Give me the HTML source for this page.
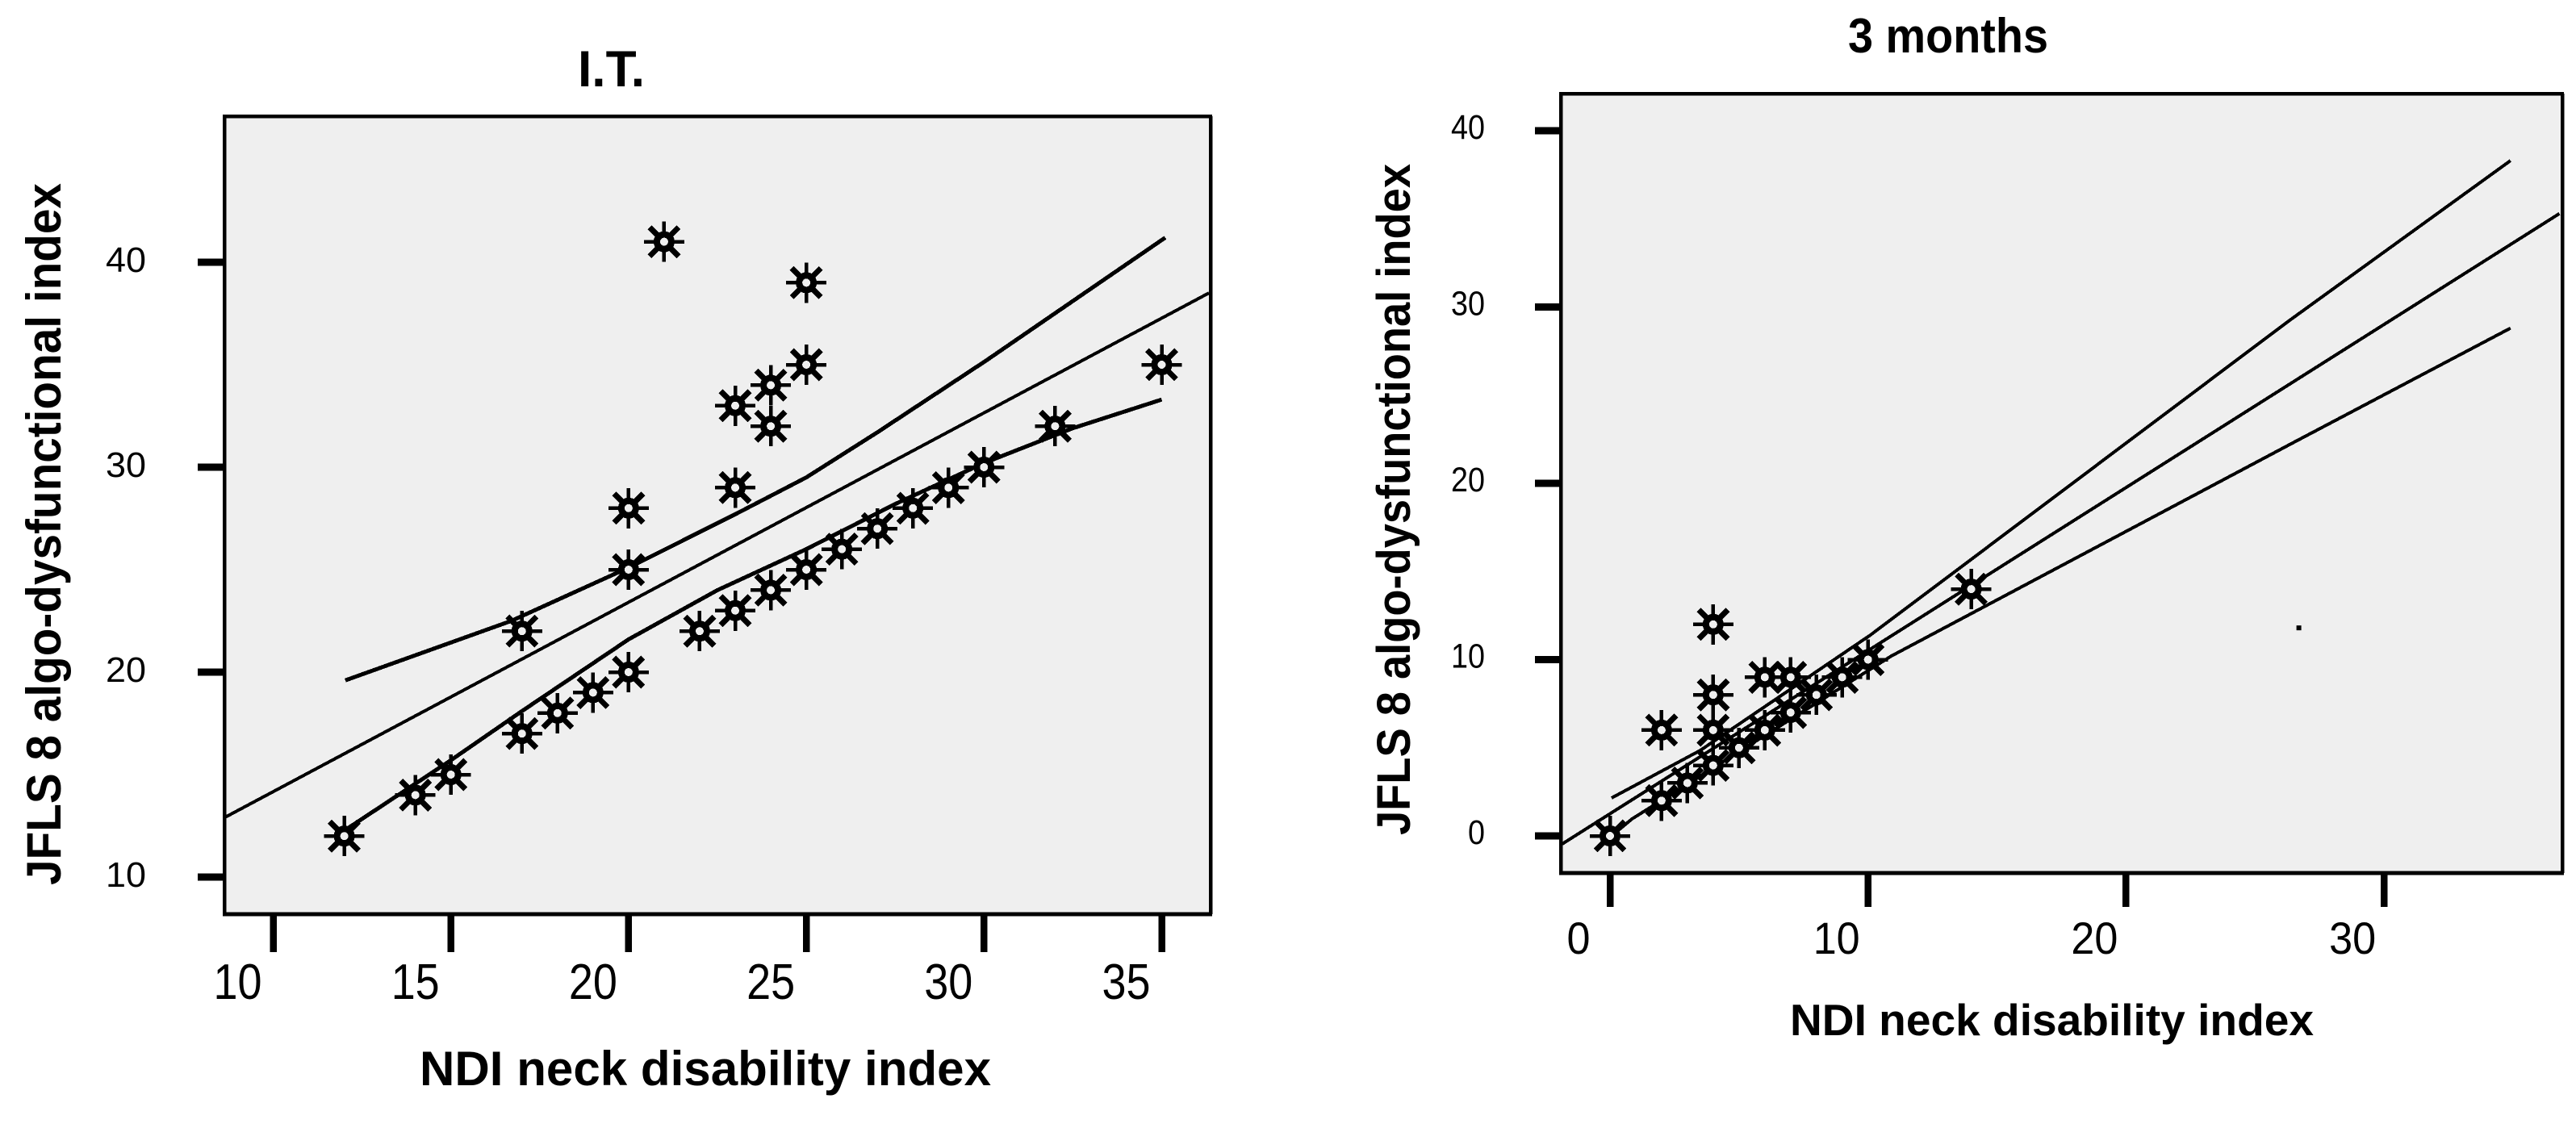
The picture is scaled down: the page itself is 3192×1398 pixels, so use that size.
<!DOCTYPE html>
<html lang="en">
<head>
<meta charset="utf-8">
<title>JFLS 8 vs NDI scatter plots</title>
<style>
html,body{margin:0;padding:0;background:#fff;width:3192px;height:1398px;overflow:hidden}
svg{display:block}
text{font-family:"Liberation Sans",sans-serif;fill:#000}
.bold{font-weight:700}
</style>
</head>
<body>
<svg id="figure" xmlns="http://www.w3.org/2000/svg" width="3192" height="1398" viewBox="0 0 3192 1398">
  <rect x="0" y="0" width="3192" height="1398" fill="#ffffff"/>

  <g id="chart-it">
    <rect x="278" y="144" width="1222" height="989" fill="#efefef"/>
    <text class="bold" x="716" y="107" font-size="63" textLength="83" lengthAdjust="spacingAndGlyphs">I.T.</text>
    <text class="bold" x="520" y="1345" font-size="60" textLength="708" lengthAdjust="spacingAndGlyphs">NDI neck disability index</text>
    <text class="bold" x="75" y="1097" font-size="60" textLength="870" lengthAdjust="spacingAndGlyphs" transform="rotate(-90 75 1097)">JFLS 8 algo-dysfunctional index</text>
  </g>

  <g id="chart-3m">
    <rect x="1934" y="116" width="1241" height="966" fill="#efefef"/>
    <text class="bold" x="2290" y="65" font-size="60" textLength="248" lengthAdjust="spacingAndGlyphs">3 months</text>
    <text class="bold" x="2218" y="1283" font-size="55" textLength="649" lengthAdjust="spacingAndGlyphs">NDI neck disability index</text>
    <text class="bold" x="1747" y="1035" font-size="58" textLength="832" lengthAdjust="spacingAndGlyphs" transform="rotate(-90 1747 1035)">JFLS 8 algo-dysfunctional index</text>
  </g>
</svg>

<script>
// ---- I.T. chart data ----
const itXTicks = [10, 15, 20, 25, 30, 35];
const itYTicks = [10, 20, 30, 40];
const itXTickLabels = ['10', '15', '20', '25', '30', '35'];
const itYTickLabels = ['10', '20', '30', '40'];
const itPointsX = [12, 14, 15, 17, 17, 18, 19, 20, 20, 20, 21, 22, 23, 23, 23, 24, 24, 24, 25, 25, 25, 26, 27, 28, 29, 30, 32, 35];
const itPointsY = [12, 14, 15, 22, 17, 18, 19, 20, 25, 28, 41, 22, 23, 29, 33, 24, 32, 34, 25, 35, 39, 26, 27, 28, 29, 30, 32, 35];
const itFitX = [8.63, 36.33];
const itFitY = [12.9, 38.5];
const itUpperX = [12.03, 16.7, 20.0, 23.0, 25.0, 27.0, 30.06, 35.1];
const itUpperY = [19.6, 22.5, 25.1, 27.7, 29.5, 31.7, 35.2, 41.2];
const itLowerX = [12.03, 15.0, 17.0, 20.0, 22.5, 25.0, 27.5, 30.0, 32.5, 35.0];
const itLowerY = [12.3, 15.7, 18.1, 21.6, 24.0, 26.0, 28.2, 30.2, 31.9, 33.3];

// ---- 3 months chart data ----
const tmXTicks = [0, 10, 20, 30];
const tmYTicks = [0, 10, 20, 30, 40];
const tmXTickLabels = ['0', '10', '20', '30'];
const tmYTickLabels = ['0', '10', '20', '30', '40'];
const tmPointsX = [0, 2, 2, 3, 4, 4, 4, 4, 5, 6, 6, 7, 7, 8, 9, 10, 14];
const tmPointsY = [0, 2, 6, 3, 4, 6, 8, 12, 5, 6, 9, 7, 9, 8, 9, 10, 14];
const tmFitX = [-1.9, 36.8];
const tmFitY = [-0.5, 35.3];
const tmUpperX = [0.06, 3.5, 10.1, 26.3, 34.9];
const tmUpperY = [2.15, 4.85, 11.4, 29.2, 38.3];
const tmLowerX = [0.06, 0.85, 10.9, 26.6, 34.9];
const tmLowerY = [0.0, 0.96, 10.2, 22.4, 28.8];
const tmStrayX = [26.7];
const tmStrayY = [11.8];

const NS = 'http://www.w3.org/2000/svg';

// axis functions
function itX(v) { return 338.5 + (v - 10) * 44.04; }
function itY(v) { return 1087 - (v - 10) * 25.4; }
function tmX(v) { return 1995 + v * 31.97; }
function tmY(v) { return 1036 - v * 21.85; }

function make(parent, tag, attrs, name) {
  const el = document.createElementNS(NS, tag);
  for (const k in attrs) el.setAttribute(k, attrs[k]);
  
  
  parent.appendChild(el);
  return el;
}

function drawBar(parent, x1, y1, x2, y2, w, name) {
  make(parent, 'line', {x1: x1, y1: y1, x2: x2, y2: y2, stroke: '#000', 'stroke-width': w, 'shape-rendering': 'crispEdges'}, name);
}

function drawLine(parent, xs, ys, sx, sy, w, name) {
  const d = xs.map(function (v, i) { return (i ? 'L' : 'M') + sx(v).toFixed(1) + ' ' + sy(ys[i]).toFixed(1); }).join(' ');
  make(parent, 'path', {d: d, fill: 'none', stroke: '#000', 'stroke-width': w, 'stroke-linejoin': 'round', 'shape-rendering': 'crispEdges'}, name);
}

function drawMarker(parent, cx, cy, name) {
  const g = make(parent, 'g', {'shape-rendering': 'crispEdges'}, name);
  const seg = [[0, -25, 0, 25, 4.5], [-25, 0, 25, 0, 4.5], [-18, -18, 18, 18, 7], [-18, 18, 18, -18, 7]];
  seg.forEach(function (s) {
    const l = document.createElementNS(NS, 'line');
    l.setAttribute('x1', cx + s[0]);
    l.setAttribute('y1', cy + s[1]);
    l.setAttribute('x2', cx + s[2]);
    l.setAttribute('y2', cy + s[3]);
    l.setAttribute('stroke', '#000');
    l.setAttribute('stroke-width', s[4]);
    g.appendChild(l);
  });
  const c = document.createElementNS(NS, 'circle');
  c.setAttribute('cx', cx);
  c.setAttribute('cy', cy);
  c.setAttribute('r', 9);
  c.setAttribute('fill', '#efefef');
  c.setAttribute('stroke', '#000');
  c.setAttribute('stroke-width', 8);
  g.appendChild(c);
}

function drawTickText(parent, label, x, y, size, perChar, anchor, name) {
  const t = make(parent, 'text', {x: x, y: y, 'font-size': size, 'text-anchor': anchor, textLength: perChar * label.length, lengthAdjust: 'spacingAndGlyphs'}, name);
  t.textContent = label;
}

function drawChart(cfg) {
  const root = document.getElementById(cfg.id);
  const p = cfg.prefix;
  drawBar(root, cfg.left - 2, cfg.top, cfg.right + 2, cfg.top, 4.5, p + '-plot-border-top');
  drawBar(root, cfg.right, cfg.top, cfg.right, cfg.bottom, 4.5, p + '-plot-border-right');
  drawBar(root, cfg.left, cfg.top, cfg.left, cfg.bottom, 4.5, p + '-y-axis-line');
  drawBar(root, cfg.left - 2, cfg.bottom, cfg.right + 2, cfg.bottom, 5, p + '-x-axis-line');

  cfg.xTicks.forEach(function (v, i) {
    const x = cfg.sx(v);
    drawBar(root, x, cfg.bottom, x, cfg.xTickEnd, 8.5, p + '-x-tick-' + v);
    drawTickText(root, cfg.xLabels[i], x + cfg.xLabelDx, cfg.xLabelBase, cfg.xFont, cfg.xCharW, 'middle', p + '-x-tick-label-' + v);
  });
  cfg.yTicks.forEach(function (v, i) {
    const y = cfg.sy(v);
    drawBar(root, cfg.yTickEnd, y, cfg.left, y, 9, p + '-y-tick-' + v);
    drawTickText(root, cfg.yLabels[i], cfg.yLabelX, y + cfg.yLabelDy, cfg.yFont, cfg.yCharW, 'end', p + '-y-tick-label-' + v);
  });

  drawLine(root, cfg.fitX, cfg.fitY, cfg.sx, cfg.sy, 4, p + '-regression-line');
  drawLine(root, cfg.upX, cfg.upY, cfg.sx, cfg.sy, cfg.bandW, p + '-upper-confidence-line');
  drawLine(root, cfg.loX, cfg.loY, cfg.sx, cfg.sy, cfg.bandW, p + '-lower-confidence-line');

  cfg.ptX.forEach(function (v, i) {
    drawMarker(root, cfg.sx(v), cfg.sy(cfg.ptY[i]), p + '-point-' + (i + 1));
  });
}

drawChart({
  id: 'chart-it', prefix: 'it', sx: itX, sy: itY,
  left: 278, right: 1500, top: 144, bottom: 1133,
  xTicks: itXTicks, yTicks: itYTicks, xLabels: itXTickLabels, yLabels: itYTickLabels,
  xTickEnd: 1180, yTickEnd: 245,
  xLabelDx: -44, xLabelBase: 1238, xFont: 62, xCharW: 30,
  yLabelX: 181, yLabelDy: 12, yFont: 44, yCharW: 25,
  fitX: itFitX, fitY: itFitY, upX: itUpperX, upY: itUpperY, loX: itLowerX, loY: itLowerY,
  bandW: 5, ptX: itPointsX, ptY: itPointsY
});

drawChart({
  id: 'chart-3m', prefix: 'three-months', sx: tmX, sy: tmY,
  left: 1934, right: 3175, top: 116, bottom: 1082,
  xTicks: tmXTicks, yTicks: tmYTicks, xLabels: tmXTickLabels, yLabels: tmYTickLabels,
  xTickEnd: 1124, yTickEnd: 1902,
  xLabelDx: -39, xLabelBase: 1182, xFont: 56, xCharW: 29,
  yLabelX: 1840, yLabelDy: 10, yFont: 43, yCharW: 21,
  fitX: tmFitX, fitY: tmFitY, upX: tmUpperX, upY: tmUpperY, loX: tmLowerX, loY: tmLowerY,
  bandW: 4, ptX: tmPointsX, ptY: tmPointsY
});

tmStrayX.forEach(function (v, i) {
  const root = document.getElementById('chart-3m');
  make(root, 'rect', {x: tmX(v) - 3, y: tmY(tmStrayY[i]) - 3, width: 6, height: 6, fill: '#000'}, 'three-months-stray-dot');
});
</script>
</body>
</html>
